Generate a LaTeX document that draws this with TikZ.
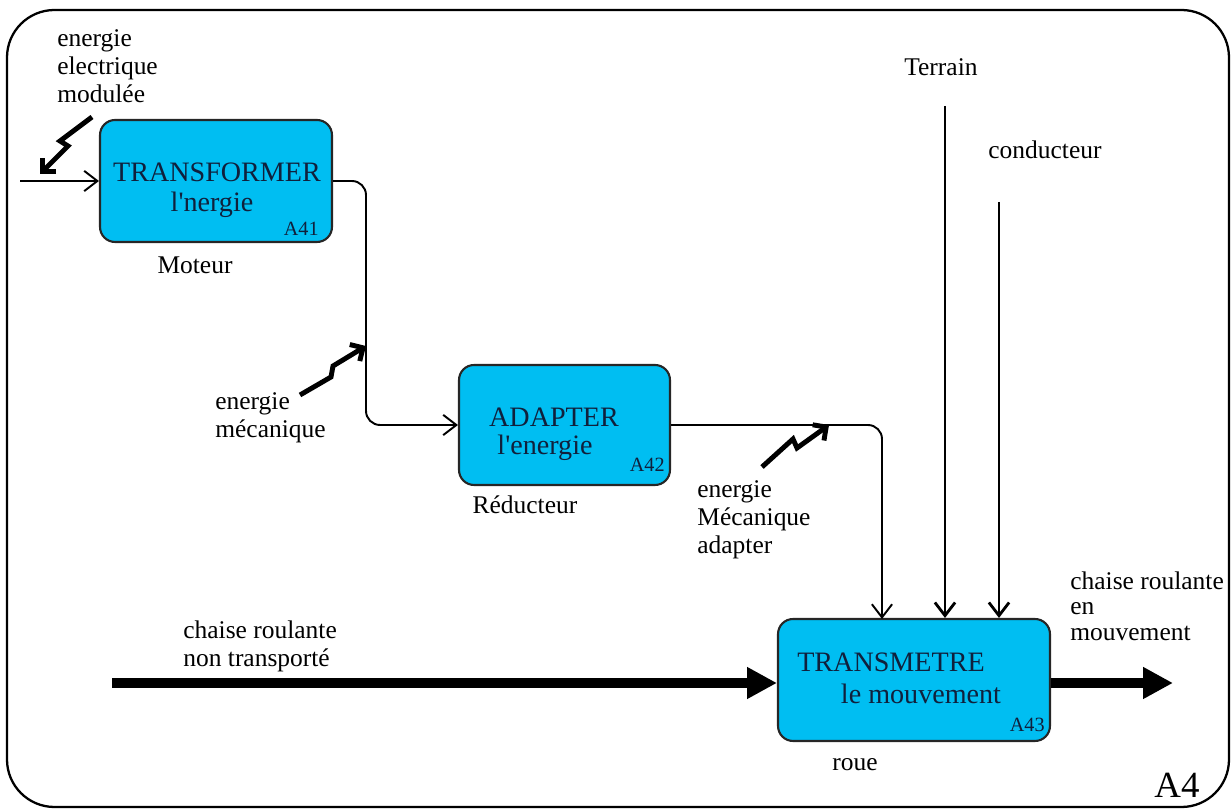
\documentclass[tikz,border=0pt]{standalone}
\usepackage{fontspec}
\setmainfont{Liberation Serif}
\usetikzlibrary{arrows.meta}
\definecolor{boxfill}{RGB}{0,190,242}
\definecolor{boxtext}{RGB}{16,32,60}
\begin{document}
\begin{tikzpicture}[x=0.02cm,y=-0.02cm,
  fn/.style={draw=black!85, line width=1.2pt, fill=boxfill, rounded corners=0.3cm, inner sep=0pt},
  btxt/.style={font=\fontsize{16}{18}\selectfont, text=boxtext, inner sep=0pt},
  bid/.style={font=\fontsize{11.5}{13}\selectfont, text=boxtext, inner sep=0pt, anchor=east},
  lbl/.style={font=\fontsize{14.5}{16}\selectfont, align=left, anchor=west, inner sep=0pt},
  conn/.style={line width=1.1pt, -{Straight Barb[length=7.5pt,width=11.5pt]}},
  ctrl/.style={line width=1.6pt, -{Straight Barb[length=7.5pt,width=11.5pt]}},
  plain/.style={line width=1.1pt},
  bolt/.style={line width=2.8pt, line join=miter, -{Straight Barb[length=5.5pt,width=11pt]}},
  thick flow/.style={line width=5.5pt, -{Triangle[length=17pt,width=17pt]}}
]
\useasboundingbox (0,0) rectangle (1232,810);
% frame
\draw[line width=1.3pt, rounded corners=0.95cm] (7,10) rectangle (1229,807);
\node[font=\fontsize{21}{24}\selectfont, inner sep=0pt] (a4) at (1177,785) {A4};

% boxes
\node[fn, minimum width=4.64cm, minimum height=2.44cm] (b1) at (216,181) {};
\node[fn, minimum width=4.22cm, minimum height=2.4cm] (b2) at (564.5,425) {};
\node[fn, minimum width=5.44cm, minimum height=2.44cm] (b3) at (914,680) {};

\node[btxt] (b1t1) at (217,172) {TRANSFORMER};
\node[btxt] (b1t2) at (212,205) {l\textquotesingle nergie};
\node[bid] (b1id) at (319,229) {A41};
\node[btxt] (b2t1) at (554,417) {ADAPTER};
\node[btxt] (b2t2) at (545,448) {l\textquotesingle energie};
\node[bid] (b2id) at (665,465) {A42};
\node[btxt] (b3t1) at (891,662) {TRANSMETRE};
\node[btxt] (b3t2) at (921,694) {le mouvement};
\node[bid] (b3id) at (1045,725) {A43};

% mechanism labels
\node[lbl, anchor=center] (mot) at (195,265) {Moteur};
\node[lbl, anchor=center] (red) at (525,505) {Réducteur};
\node[lbl, anchor=center] (roue) at (855,765) {roue};

% input energy
\node[lbl] (l1) at (57,66) {energie\\electrique\\modulée};
\coordinate (in1) at (20,181);
\draw[conn] (in1) -- (b1.west);
\coordinate (z1a) at (92,117);
\coordinate (z1b) at (40,174);
\draw[bolt] (z1a) -- (60,141) -- (68,146) -- (z1b);

% b1 -> b2
\coordinate (j1) at (366,346);
\draw[conn, rounded corners=8pt] (b1.east) -| (j1) |- (b2.west);
\node[lbl] (l2) at (215,418) {energie\\mécanique};
\draw[bolt] (300,395) -- (331,377) -- (333,366) -- (j1);

% b2 -> b3
\coordinate (j2) at (829,425);
\coordinate (t1) at (882,619);
\draw[plain] (b2.east) -- (j2);
\draw[conn, rounded corners=8pt] (j2) -| (t1);
\node[lbl] (l3) at (697,520) {energie\\Mécanique\\adapter};
\draw[bolt] (762,467) -- (793,439) -- (797,448) -- (j2);

% controls
\node[lbl] (terr) at (904,67) {Terrain};
\coordinate (c1) at (945,106);
\draw[ctrl] (c1) -- (c1 |- b3.north);
\node[lbl] (cond) at (988,150) {conducteur};
\coordinate (c2) at (999,202);
\draw[ctrl] (c2) -- (c2 |- b3.north);

% main flow
\coordinate (fin) at (112,683);
\draw[thick flow] (fin) -- (fin -| b3.west);
\node[lbl] (l4) at (183,646) {chaise roulante\\non transporté};
\coordinate (fout) at (1173,683);
\draw[thick flow] (b3.east |- fout) -- (fout);
\node[lbl, font=\fontsize{14.5}{14.5}\selectfont] (l5) at (1070,606) {chaise roulante\\en\\mouvement};
\end{tikzpicture}
\end{document}
